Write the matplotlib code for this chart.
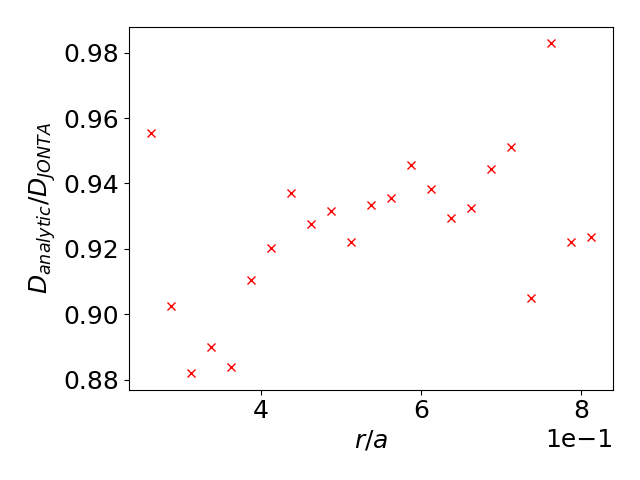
import matplotlib
matplotlib.use("Agg")
import matplotlib.pyplot as plt
import numpy as np

# r/a values and ratio of analytic to JONTA diffusion coefficients
r_over_a = np.array([0.2625, 0.2875, 0.3125, 0.3375, 0.3625, 0.3875, 0.4125, 0.4375,
                     0.4625, 0.4875, 0.5125, 0.5375, 0.5625, 0.5875, 0.6125, 0.6375,
                     0.6625, 0.6875, 0.7125, 0.7375, 0.7625, 0.7875, 0.8125])
ratio = np.array([0.9555, 0.9025, 0.882, 0.890, 0.884, 0.9105, 0.9202, 0.9372,
                  0.9275, 0.9317, 0.922, 0.9335, 0.9355, 0.9458, 0.9382, 0.9296,
                  0.9324, 0.9443, 0.9513, 0.905, 0.9828, 0.922, 0.9235])

plt.rcParams["font.size"] = 18

fig, ax = plt.subplots(figsize=(6.4, 4.8), dpi=100)
ax.plot(r_over_a, ratio, "rx", ls="none")
ax.set_xlabel("$r/a$")
ax.set_ylabel("$D_{analytic}/D_{JONTA}$")
ax.ticklabel_format(axis="x", style="sci", scilimits=(0, 0))
fig.tight_layout()
fig.savefig("out.png", dpi=100)
